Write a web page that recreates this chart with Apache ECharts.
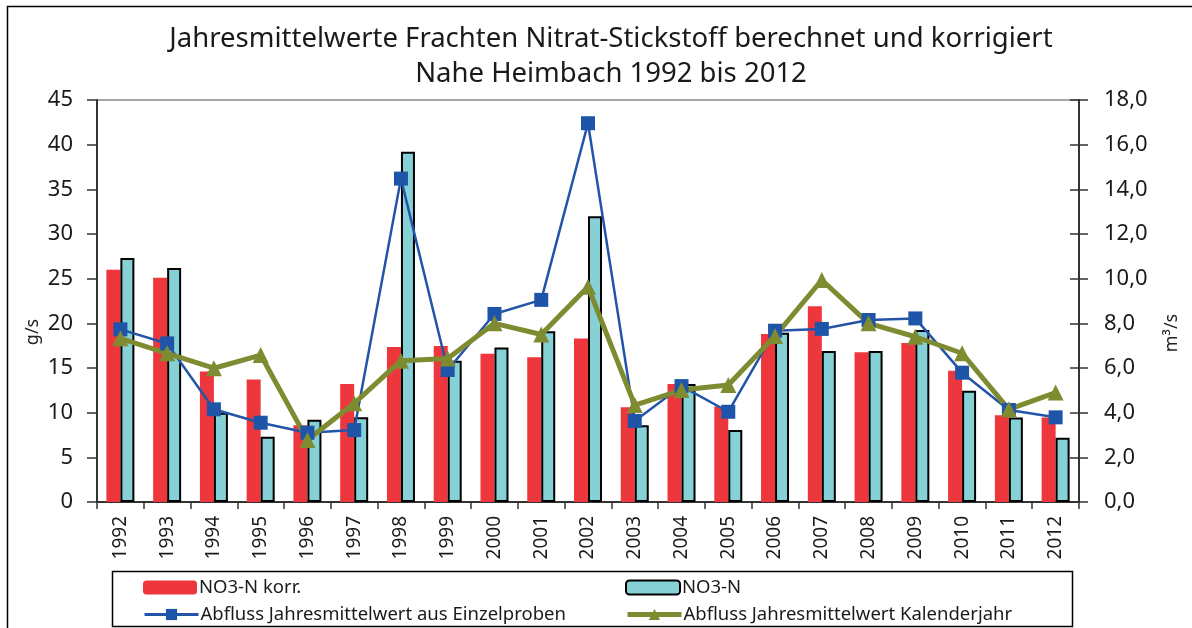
<!DOCTYPE html>
<html>
<head>
<meta charset="utf-8">
<script src="https://cdn.jsdelivr.net/npm/echarts@6/dist/echarts.min.js"></script>
<style>
html,body{margin:0;padding:0;background:#fff;}
#chart{width:1192px;height:628px;}
</style>
</head>
<body>
<div id="chart"></div>
<script>
const years = ['1992','1993','1994','1995','1996','1997','1998','1999','2000','2001','2002','2003','2004','2005','2006','2007','2008','2009','2010','2011','2012'];
const no3nKorr = [26.0, 25.1, 14.6, 13.7, 8.6, 13.2, 17.35, 17.45, 16.6, 16.2, 18.3, 10.6, 13.2, 10.7, 18.8, 21.9, 16.75, 17.8, 14.7, 9.7, 9.45];
const no3n = [27.3, 26.2, 10.0, 7.3, 9.2, 9.5, 39.2, 15.8, 17.3, 19.1, 32.0, 8.6, 13.2, 8.05, 18.95, 16.9, 16.9, 19.25, 12.45, 9.45, 7.2];
const abflussEinzel = [7.73, 7.1, 4.15, 3.55, 3.1, 3.22, 14.48, 5.91, 8.42, 9.05, 16.96, 3.63, 5.19, 4.04, 7.67, 7.75, 8.15, 8.22, 5.79, 4.12, 3.79];
const abflussKalender = [7.33, 6.66, 5.99, 6.58, 2.78, 4.42, 6.33, 6.43, 8.0, 7.5, 9.64, 4.34, 5.01, 5.24, 7.43, 9.94, 8.0, 7.4, 6.66, 4.15, 4.9];
const seriesNames = ['NO3-N korr.', 'NO3-N', 'Abfluss Jahresmittelwert aus Einzelproben', 'Abfluss Jahresmittelwert Kalenderjahr'];
const titleLines = ['Jahresmittelwerte Frachten Nitrat-Stickstoff berechnet und korrigiert', 'Nahe Heimbach 1992 bis 2012'];
const leftAxisName = 'g/s';
const rightAxisName = 'm³/s';

const FONT = '"Noto Sans", "Open Sans", sans-serif';
const chart = echarts.init(document.getElementById('chart'), null, {renderer: 'canvas'});

function legendAt(name, left, top, lineWidth) {
  const l = {
    data: [name], orient: 'horizontal', left: left, top: top, padding: 0,
    itemWidth: 54, itemHeight: 14, itemGap: 0,
    textStyle: {fontFamily: FONT, fontSize: 18.5, color: '#1a1a1a', lineHeight: 14, padding: [0, 0, 0, -3]}
  };
  if (lineWidth) l.lineStyle = {width: lineWidth};
  return l;
}

const option = {
  animation: false,
  backgroundColor: '#fff',
  textStyle: {fontFamily: FONT},
  title: {
    text: titleLines.join('\n'),
    left: 606, top: 17, textAlign: 'center',
    textStyle: {fontFamily: FONT, fontSize: 27.5, fontWeight: 'normal', color: '#1a1a1a', lineHeight: 35}
  },
  graphic: [
    {type: 'rect', shape: {x: 7.5, y: 6.5, width: 1200, height: 660}, style: {fill: 'none', stroke: '#000', lineWidth: 1.5}, silent: true},
    {type: 'rect', shape: {x: 112.5, y: 571.5, width: 960, height: 55}, style: {fill: 'none', stroke: '#000', lineWidth: 1.5}, silent: true},
    {type: 'text', x: 33, y: 332, rotation: Math.PI / 2, style: {text: leftAxisName, font: '18px "Noto Sans", sans-serif', fill: '#222', textAlign: 'center', textVerticalAlign: 'middle'}},
    {type: 'text', x: 1172, y: 333, rotation: Math.PI / 2, style: {text: rightAxisName, font: '18px "Noto Sans", sans-serif', fill: '#222', textAlign: 'center', textVerticalAlign: 'middle'}}
  ],
  legend: [
    legendAt(seriesNames[0], 143, 578),
    legendAt(seriesNames[2], 143, 605, 3),
    legendAt(seriesNames[1], 625, 578),
    legendAt(seriesNames[3], 625, 605, 5)
  ],
  grid: {left: 97, right: 113, top: 100, bottom: 126, show: true, borderColor: '#a6a6a6', borderWidth: 2, backgroundColor: 'transparent'},
  xAxis: {
    type: 'category', data: years, boundaryGap: true,
    axisLine: {lineStyle: {color: '#333', width: 2}},
    axisTick: {show: true, alignWithLabel: false, length: 7, lineStyle: {color: '#333', width: 1.5}},
    axisLabel: {rotate: 90, margin: 14, fontFamily: FONT, fontSize: 19, color: '#1a1a1a', interval: 0}
  },
  yAxis: [
    {
      type: 'value', min: 0, max: 45, interval: 5, position: 'left',
      axisLine: {show: true, lineStyle: {color: '#333', width: 2}},
      axisTick: {show: true, inside: false, length: 10, lineStyle: {color: '#333', width: 1.5}},
      splitLine: {show: false},
      axisLabel: {margin: 24, fontFamily: FONT, fontSize: 22, color: '#1a1a1a'}
    },
    {
      type: 'value', min: 0, max: 18, interval: 2, position: 'right',
      axisLine: {show: true, lineStyle: {color: '#333', width: 2}},
      axisTick: {show: true, inside: true, length: 9, lineStyle: {color: '#333', width: 1.5}},
      splitLine: {show: false},
      axisLabel: {margin: 25, fontFamily: FONT, fontSize: 22, color: '#1a1a1a', formatter: v => v.toFixed(1).replace('.', ',')}
    },
    {
      type: 'value', min: 0, max: 18, interval: 2, position: 'right',
      axisLine: {show: false},
      axisTick: {show: true, inside: false, length: 9, lineStyle: {color: '#333', width: 1.5}},
      splitLine: {show: false},
      axisLabel: {show: false}
    }
  ],
  series: [
    {
      name: seriesNames[0], type: 'bar', yAxisIndex: 0, data: no3nKorr,
      barWidth: 14, barGap: '0%',
      itemStyle: {color: '#ED373C'}
    },
    {
      name: seriesNames[1], type: 'bar', yAxisIndex: 0, data: no3n,
      barWidth: 14, barGap: '0%',
      itemStyle: {color: '#86D1D5', borderColor: '#000', borderWidth: 2}
    },
    {
      name: seriesNames[2], type: 'line', yAxisIndex: 1, data: abflussEinzel,
      symbol: 'rect', symbolSize: 14,
      lineStyle: {color: '#2354A8', width: 2.5},
      itemStyle: {color: '#1F55A9'}
    },
    {
      name: seriesNames[3], type: 'line', yAxisIndex: 1, data: abflussKalender,
      symbol: 'triangle', symbolSize: 16,
      lineStyle: {color: '#7F8B31', width: 5},
      itemStyle: {color: '#7F8B31'}
    }
  ]
};
chart.setOption(option);
</script>
</body>
</html>
